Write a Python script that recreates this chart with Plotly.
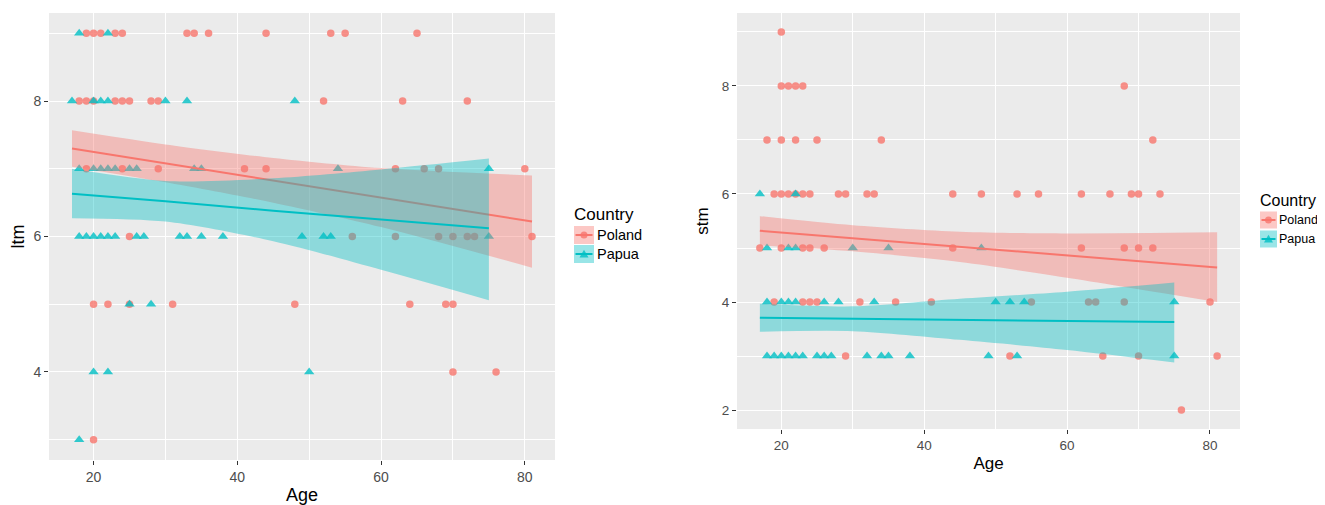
import plotly.graph_objects as go

# ---------------- data: left panel (ltm) ----------------
ltm_poland_age = [19, 20, 21, 23, 24, 33, 34, 36, 44, 53, 55, 65,
                  18, 19, 20, 23, 24, 25, 28, 29, 52, 63, 72,
                  19, 24, 29, 41, 44, 62, 66, 68, 80,
                  25, 56, 62, 68, 70, 72, 73, 81,
                  20, 22, 25, 31, 48, 64, 69, 70,
                  70, 76,
                  20]
ltm_poland_val = [9, 9, 9, 9, 9, 9, 9, 9, 9, 9, 9, 9,
                  8, 8, 8, 8, 8, 8, 8, 8, 8, 8, 8,
                  7, 7, 7, 7, 7, 7, 7, 7, 7,
                  6, 6, 6, 6, 6, 6, 6, 6,
                  5, 5, 5, 5, 5, 5, 5, 5,
                  4, 4,
                  3]
ltm_papua_age = [18, 22,
                 17, 20, 21, 22, 30, 33, 48,
                 18, 20, 21, 22, 23, 25, 26, 34, 35, 54, 75,
                 18, 19, 20, 21, 22, 23, 26, 27, 32, 33, 35, 38, 49, 52, 53, 75,
                 25, 28,
                 20, 22, 50,
                 18]
ltm_papua_val = [9, 9,
                 8, 8, 8, 8, 8, 8, 8,
                 7, 7, 7, 7, 7, 7, 7, 7, 7, 7, 7,
                 6, 6, 6, 6, 6, 6, 6, 6, 6, 6, 6, 6, 6, 6, 6, 6,
                 5, 5,
                 4, 4, 4,
                 3]
# linear smooth (lm) with 95% band
ltm_fit_age_poland = [17, 30, 45, 60, 81]
ltm_fit_poland = [7.30, 7.08, 6.83, 6.57, 6.22]
ltm_lo_poland = [7.03, 6.80, 6.50, 6.14, 5.54]
ltm_hi_poland = [7.57, 7.36, 7.16, 7.01, 6.90]
ltm_fit_age_papua = [17, 30, 45, 60, 75]
ltm_fit_papua = [6.63, 6.52, 6.38, 6.25, 6.12]
ltm_lo_papua = [6.27, 6.22, 5.93, 5.51, 5.06]
ltm_hi_papua = [7.00, 6.82, 6.86, 6.99, 7.15]

# ---------------- data: right panel (stm) ----------------
stm_poland_age = [20,
                  20, 21, 22, 23, 68,
                  18, 20, 22, 25, 34, 72,
                  19, 20, 21, 22, 23, 24, 28, 29, 32, 33, 44, 48, 53, 56, 62, 66, 69, 70, 73,
                  17, 20, 23, 24, 26, 44, 62, 68, 70, 72,
                  19, 23, 24, 25, 31, 36, 41, 55, 63, 64, 68, 80,
                  29, 52, 65, 70, 81,
                  76]
stm_poland_val = [9,
                  8, 8, 8, 8, 8,
                  7, 7, 7, 7, 7, 7,
                  6, 6, 6, 6, 6, 6, 6, 6, 6, 6, 6, 6, 6, 6, 6, 6, 6, 6, 6,
                  5, 5, 5, 5, 5, 5, 5, 5, 5, 5,
                  4, 4, 4, 4, 4, 4, 4, 4, 4, 4, 4, 4,
                  3, 3, 3, 3, 3,
                  2]
stm_papua_age = [17, 22,
                 18, 21, 22, 30, 35, 48,
                 18, 20, 21, 22, 26, 28, 33, 50, 52, 54, 75,
                 18, 19, 20, 21, 22, 23, 25, 26, 27, 32, 34, 35, 38, 49, 53, 75]
stm_papua_val = [6, 6,
                 5, 5, 5, 5, 5, 5,
                 4, 4, 4, 4, 4, 4, 4, 4, 4, 4, 4,
                 3, 3, 3, 3, 3, 3, 3, 3, 3, 3, 3, 3, 3, 3, 3, 3]
stm_fit_age_poland = [17, 30, 45, 60, 81]
stm_fit_poland = [5.32, 5.18, 5.02, 4.86, 4.64]
stm_lo_poland = [5.05, 4.94, 4.74, 4.45, 4.00]
stm_hi_poland = [5.59, 5.42, 5.30, 5.27, 5.29]
stm_fit_age_papua = [17, 30, 45, 60, 75]
stm_fit_papua = [3.71, 3.69, 3.68, 3.65, 3.63]
stm_lo_papua = [3.45, 3.46, 3.30, 3.11, 2.88]
stm_hi_papua = [3.97, 3.92, 4.06, 4.19, 4.36]

countries = ["Poland", "Papua"]

# ---------------- styling ----------------
# the page body has an 8px default margin, so the figure is made 8px smaller
# and all page positions below are given in window pixels.
OFF = 8
W, H = 1325 - OFF, 505 - OFF
FONT = "Liberation Sans, Arial, Helvetica, sans-serif"
COL = {"Poland": "#F8766D", "Papua": "#00BFC4"}
FILL = {"Poland": "rgba(248,118,109,0.4)", "Papua": "rgba(0,191,196,0.4)"}
SYM = {"Poland": "circle", "Papua": "triangle-up"}
MSIZE = {"Poland": 7.5, "Papua": 9}


def px(x):
    return (x - OFF) / W


def py(y):
    return 1 - (y - OFF) / H


fig = go.Figure()


def add_panel(xa, ya, pts, fits):
    # points first (ggplot draws geom_point below geom_smooth)
    for c in countries:
        ages, vals = pts[c]
        fig.add_trace(go.Scatter(
            x=ages, y=vals, mode="markers", xaxis=xa, yaxis=ya,
            marker=dict(symbol=SYM[c], size=MSIZE[c], color=COL[c], opacity=0.8,
                        line=dict(width=0)),
            showlegend=False, hoverinfo="x+y"))
    for c in countries:
        a, f, lo, hi = fits[c]
        # lower edge, then upper edge filled down to it
        fig.add_trace(go.Scatter(
            x=a, y=lo, mode="lines",
            line=dict(width=0, shape="spline", smoothing=0.8, color=FILL[c]),
            xaxis=xa, yaxis=ya, showlegend=False, hoverinfo="skip"))
        fig.add_trace(go.Scatter(
            x=a, y=hi, mode="lines", fill="tonexty", fillcolor=FILL[c],
            line=dict(width=0, shape="spline", smoothing=0.8, color=FILL[c]),
            xaxis=xa, yaxis=ya, showlegend=False, hoverinfo="skip"))
        fig.add_trace(go.Scatter(
            x=a, y=f, mode="lines", line=dict(color=COL[c], width=2),
            xaxis=xa, yaxis=ya, showlegend=False, hoverinfo="skip"))


add_panel("x", "y",
          {"Poland": (ltm_poland_age, ltm_poland_val), "Papua": (ltm_papua_age, ltm_papua_val)},
          {"Poland": (ltm_fit_age_poland, ltm_fit_poland, ltm_lo_poland, ltm_hi_poland),
           "Papua": (ltm_fit_age_papua, ltm_fit_papua, ltm_lo_papua, ltm_hi_papua)})
add_panel("x2", "y2",
          {"Poland": (stm_poland_age, stm_poland_val), "Papua": (stm_papua_age, stm_papua_val)},
          {"Poland": (stm_fit_age_poland, stm_fit_poland, stm_lo_poland, stm_hi_poland),
           "Papua": (stm_fit_age_papua, stm_fit_papua, stm_lo_papua, stm_hi_papua)})


def axis_style(dtick, minor_dtick, tick_size, title, title_size, standoff):
    return dict(
        showgrid=True, gridcolor="white", gridwidth=1.2,
        minor=dict(dtick=minor_dtick, tick0=0, showgrid=True, gridcolor="white",
                   gridwidth=0.6, ticks=""),
        dtick=dtick, tick0=0, zeroline=False, showline=False,
        ticks="outside", ticklen=4, tickwidth=1.1, tickcolor="#333333",
        tickfont=dict(family=FONT, size=tick_size, color="#4D4D4D"),
        title=dict(text=title, font=dict(family=FONT, size=title_size, color="black"),
                   standoff=standoff),
        automargin=False,
        fixedrange=True)


fig.update_layout(
    width=W, height=H, autosize=False,
    margin=dict(l=0, r=0, t=0, b=0, autoexpand=False),
    paper_bgcolor="white", plot_bgcolor="#EBEBEB",
    showlegend=False,
    font=dict(family=FONT),
    xaxis=dict(domain=[px(49), px(555)], range=[13.8, 84.2], anchor="y",
               **axis_style(20, 10, 14, "Age", 18, 7)),
    yaxis=dict(domain=[py(460), py(13)], range=[2.7, 9.3], anchor="x",
               **axis_style(2, 1, 14, "ltm", 18, 4)),
    xaxis2=dict(domain=[px(737), px(1240)], range=[13.8, 84.2], anchor="y2",
                **axis_style(20, 10, 13.5, "Age", 17, 4)),
    yaxis2=dict(domain=[py(429), py(13)], range=[1.65, 9.35], anchor="x2",
                **axis_style(2, 1, 13.5, "stm", 17, 8)),
)

# ---------------- legends (ggplot-style keys) ----------------
shapes = []
annotations = []


def legend(x0, title_y, item_ys, key_w, key_h, title_size, label_size, label_x):
    annotations.append(dict(
        x=px(x0), y=py(title_y), xref="paper", yref="paper", xanchor="left",
        yanchor="middle", text="Country", showarrow=False, xshift=-2,
        font=dict(family=FONT, size=title_size, color="black")))
    for c, yc in zip(countries, item_ys):
        shapes.append(dict(type="rect", xref="paper", yref="paper",
                           x0=px(x0), x1=px(x0 + key_w),
                           y0=py(yc + key_h / 2), y1=py(yc - key_h / 2),
                           fillcolor=FILL[c], line=dict(width=0), layer="above"))
        shapes.append(dict(type="line", xref="paper", yref="paper",
                           x0=px(x0 + 1.5), x1=px(x0 + key_w - 1.5), y0=py(yc), y1=py(yc),
                           line=dict(color=COL[c], width=2), layer="above"))
        cx = x0 + key_w / 2
        if c == "Poland":
            r = 3.5
            shapes.append(dict(type="circle", xref="paper", yref="paper",
                               x0=px(cx - r), x1=px(cx + r), y0=py(yc + r), y1=py(yc - r),
                               fillcolor=COL[c], opacity=0.8, line=dict(width=0),
                               layer="above"))
        else:
            s = 4.5
            path = "M {:.5f} {:.5f} L {:.5f} {:.5f} L {:.5f} {:.5f} Z".format(
                px(cx - s), py(yc + s * 0.8), px(cx + s), py(yc + s * 0.8),
                px(cx), py(yc - s * 0.95))
            shapes.append(dict(type="path", xref="paper", yref="paper", path=path,
                               fillcolor=COL[c], opacity=0.8, line=dict(width=0),
                               layer="above"))
        annotations.append(dict(
            x=px(label_x), y=py(yc), xref="paper", yref="paper", xanchor="left",
            yanchor="middle", text=c, showarrow=False, xshift=-2,
            font=dict(family=FONT, size=label_size, color="black")))


legend(574, 215, [235, 254], 20, 18, 17, 14.5, 597)
legend(1260, 200, [220, 239], 17, 17, 16, 12.5, 1279)

fig.update_layout(shapes=shapes, annotations=annotations)

fig.write_html("out.html")
